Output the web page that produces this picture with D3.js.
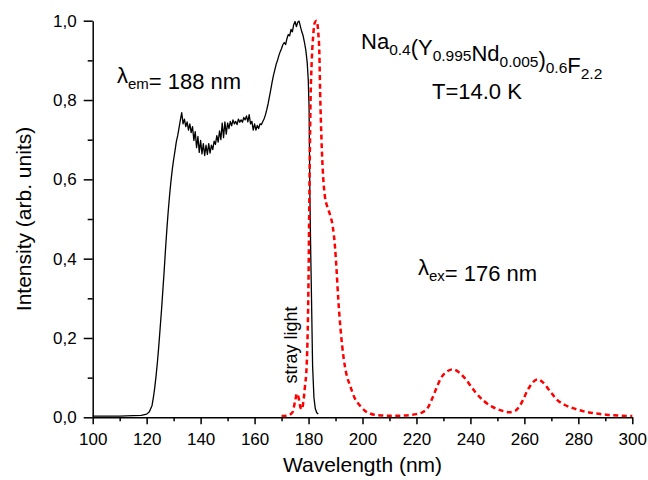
<!DOCTYPE html>
<html>
<head>
<meta charset="utf-8">
<script src="https://cdn.jsdelivr.net/npm/d3@7"></script>
<style>
  html, body { margin: 0; padding: 0; background: #fff; }
  svg { display: block; font-family: "Liberation Sans", Arial, sans-serif; }
</style>
</head>
<body>
<svg id="chart" width="648" height="480"></svg>
<script>
// ---- data ----
const xTickValues = [100, 120, 140, 160, 180, 200, 220, 240, 260, 280, 300];
const xMinorTickValues = [110, 130, 150, 170, 190, 210, 230, 250, 270, 290];
const yTickValues = [0, 0.2, 0.4, 0.6, 0.8, 1.0];
const yMinorTickValues = [0.1, 0.3, 0.5, 0.7, 0.9];

// excitation spectrum, λem = 188 nm (solid black) : [wavelength nm, intensity]
const excitationSpectrum = [
  [100,0.003],[105,0.003],[110,0.003],[115,0.004],[118,0.005],[120,0.008],[121,0.014],
  [122,0.03],[122.5,0.05],[123,0.075],[123.5,0.105],[124,0.14],[124.5,0.18],[125,0.225],
  [125.5,0.27],[126,0.32],[126.5,0.37],[127,0.425],[127.5,0.475],[128,0.52],[128.5,0.56],
  [129,0.595],[129.5,0.625],[130,0.65],[130.5,0.672],[131,0.695],[131.5,0.71],[132,0.73],
  [132.5,0.75],[133,0.768],[133.5,0.74],[134,0.752],[134.5,0.733],[135,0.745],[135.5,0.724],
  [136,0.74],[136.5,0.718],[137,0.733],[137.5,0.698],[138,0.72],[138.5,0.68],[139,0.708],
  [139.5,0.668],[140,0.698],[140.5,0.664],[141,0.69],[141.5,0.66],[142,0.686],[142.5,0.663],
  [143,0.69],[143.5,0.666],[144,0.686],[144.5,0.675],[145,0.696],[145.5,0.688],[146,0.71],
  [146.5,0.694],[147,0.722],[147.5,0.70],[148,0.742],[148.5,0.705],[149,0.745],[149.5,0.714],
  [150,0.742],[150.5,0.728],[151,0.746],[151.5,0.735],[152,0.75],[152.5,0.74],[153,0.746],
  [153.5,0.738],[154,0.752],[154.5,0.744],[155,0.75],[155.5,0.744],[156,0.756],[156.5,0.75],
  [157,0.76],[157.5,0.745],[158,0.763],[158.5,0.74],[159,0.746],[159.5,0.724],[160,0.74],
  [160.5,0.724],[161,0.736],[161.5,0.728],[162,0.74],[162.5,0.738],[163,0.745],[163.5,0.752],
  [164,0.762],[164.5,0.775],[165,0.79],[165.5,0.808],[166,0.826],[166.5,0.845],[167,0.862],
  [167.5,0.876],[168,0.89],[168.5,0.9],[169,0.912],[169.5,0.922],[170,0.93],[170.5,0.94],
  [171,0.945],[171.5,0.94],[172,0.955],[172.5,0.965],[173,0.962],[173.5,0.978],[174,0.972],
  [174.5,0.99],[175,0.998],[175.5,0.985],[176,0.996],[176.5,0.999],[177,0.985],[177.5,0.972],
  [178,0.962],[178.5,0.945],[179,0.925],[179.5,0.895],[179.9,0.85],[180.2,0.78],[180.5,0.56],
  [180.8,0.42],[181.1,0.30],[181.5,0.13],[182,0.05],[182.5,0.022],[183,0.012],[183.6,0.008]
];

// emission spectrum, λex = 176 nm (dotted red) : [wavelength nm, intensity]
const emissionSpectrum = [
  [170,0.003],[172,0.004],[174,0.012],[175,0.04],[175.7,0.06],[176.3,0.05],[177,0.025],
  [177.5,0.02],[178,0.035],[178.7,0.08],[179.3,0.13],[179.7,0.22],[180,0.35],[180.3,0.55],
  [180.7,0.78],[181.2,0.9],[181.7,0.96],[182.3,0.995],[183,1.0],[183.6,0.97],[184,0.92],
  [184.3,0.82],[184.8,0.7],[185.3,0.62],[186,0.56],[187,0.53],[188,0.51],[189,0.48],
  [189.8,0.43],[190.4,0.37],[191,0.3],[191.9,0.22],[193,0.15],[194,0.11],[195.4,0.08],
  [197,0.05],[199,0.03],[201,0.016],[203,0.009],[206,0.005],[210,0.004],[214,0.004],
  [218,0.006],[220,0.008],[222,0.012],[224,0.022],[226,0.05],[227.5,0.075],[229,0.098],
  [231,0.114],[233.5,0.121],[236,0.112],[238.5,0.094],[240,0.08],[242,0.062],[245,0.041],
  [248,0.027],[251,0.018],[254.5,0.013],[256.5,0.016],[258,0.026],[259.5,0.044],[261,0.066],
  [263,0.087],[265,0.096],[267,0.087],[269.5,0.066],[272,0.045],[275,0.031],[278,0.023],
  [282,0.015],[286,0.01],[291,0.006],[296,0.004],[300,0.003]
];

// ---- drawing ----
const svg = d3.select("#chart");
const x = d3.scaleLinear().domain([100, 300]).range([92.7, 632.3]);
const y = d3.scaleLinear().domain([0, 1]).range([417.3, 20.7]);
const fmt = v => d3.format(".1f")(v).replace(".", ",");

// lines
const line = d3.line().x(d => x(d[0])).y(d => y(d[1]));
svg.append("path")
  .datum(excitationSpectrum)
  .attr("d", line)
  .attr("fill", "none")
  .attr("stroke", "#000")
  .attr("stroke-width", 1.3)
  .attr("stroke-linejoin", "round");

svg.append("path")
  .datum(emissionSpectrum)
  .attr("d", line.curve(d3.curveMonotoneX))
  .attr("fill", "none")
  .attr("stroke", "#ff0000")
  .attr("stroke-width", 2.5)
  .attr("stroke-dasharray", "5,3.5");

// axes
const xAxis = svg.append("g").attr("transform", `translate(0,${y(0)})`)
  .call(d3.axisBottom(x).tickValues(xTickValues).tickSize(7).tickSizeOuter(0).tickPadding(9));
xAxis.selectAll("text").attr("font-size", 17).attr("fill", "#000").attr("font-family", null);
svg.append("g").attr("transform", `translate(0,${y(0)})`)
  .call(d3.axisBottom(x).tickValues(xMinorTickValues).tickSize(4).tickFormat(""))
  .call(g => g.select(".domain").remove());

const yAxis = svg.append("g").attr("transform", `translate(${x(100)},0)`)
  .call(d3.axisLeft(y).tickValues(yTickValues).tickSize(9).tickSizeOuter(0).tickPadding(7).tickFormat(fmt));
yAxis.selectAll("text").attr("font-size", 17).attr("fill", "#000").attr("font-family", null);
svg.append("g").attr("transform", `translate(${x(100)},0)`)
  .call(d3.axisLeft(y).tickValues(yMinorTickValues).tickSize(5).tickFormat(""))
  .call(g => g.select(".domain").remove());

svg.selectAll(".domain, .tick line").attr("stroke", "#000").attr("stroke-width", 1.5);

// axis titles
svg.append("text")
  .attr("x", (x(100) + x(300)) / 2).attr("y", 472)
  .attr("text-anchor", "middle").attr("font-size", 21)
  .text("Wavelength (nm)");
svg.append("text")
  .attr("transform", `translate(31,${(y(0) + y(1)) / 2}) rotate(-90)`)
  .attr("text-anchor", "middle").attr("font-size", 21)
  .text("Intensity (arb. units)");

// annotations
function subText(xp, yp, parts, size, subSize) {
  const t = svg.append("text").attr("x", xp).attr("y", yp).attr("font-size", size);
  parts.forEach(p => {
    if (p.sub) {
      t.append("tspan").attr("font-size", subSize).attr("dy", 6).text(p.t);
      t.append("tspan").attr("dy", -6).text("");
    } else {
      t.append("tspan").text(p.t);
    }
  });
  return t;
}

subText(361, 49, [
  {t: "Na"}, {t: "0.4", sub: true}, {t: "(Y"}, {t: "0.995", sub: true}, {t: "Nd"},
  {t: "0.005", sub: true}, {t: ")"}, {t: "0.6", sub: true}, {t: "F"}, {t: "2.2", sub: true}
], 22, 15.5);

svg.append("text").attr("x", 432).attr("y", 99).attr("font-size", 22).text("T=14.0 K");

subText(117, 83, [{t: "λ"}, {t: "em", sub: true}, {t: "= 188 nm"}], 22, 15);
subText(418, 275, [{t: "λ"}, {t: "ex", sub: true}, {t: "= 176 nm"}], 22, 15);

svg.append("text")
  .attr("transform", `translate(297,345) rotate(-90)`)
  .attr("text-anchor", "middle").attr("font-size", 18)
  .text("stray light");
</script>
</body>
</html>
